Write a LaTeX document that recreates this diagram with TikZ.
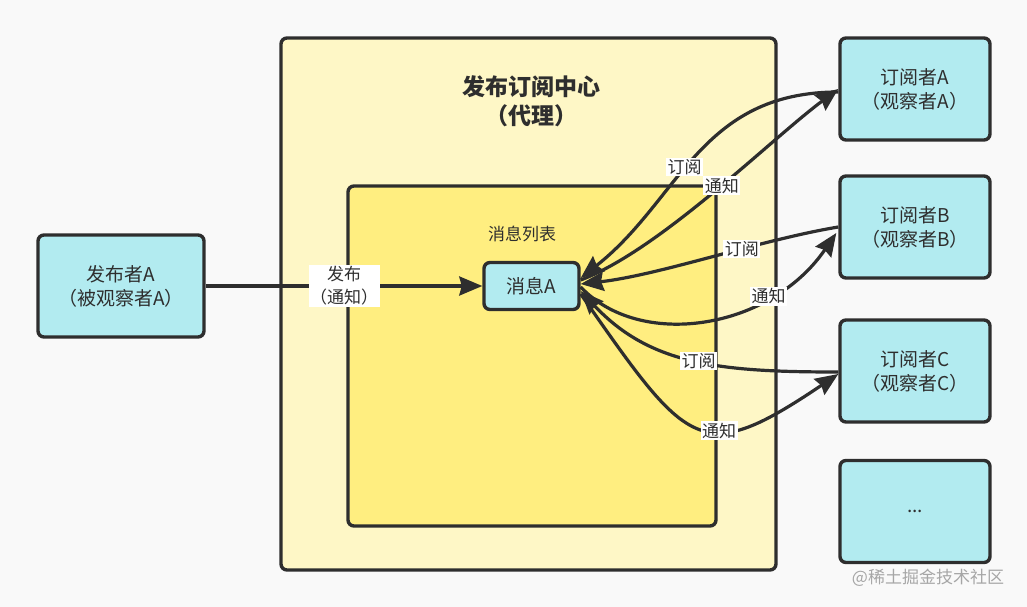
\documentclass[tikz,border=0pt]{standalone}
\usepackage{fontspec}
\setmainfont{Noto Sans CJK SC}
\usetikzlibrary{arrows.meta}
\definecolor{bgc}{HTML}{F9F9F9}
\definecolor{ink}{HTML}{2E2E2E}
\definecolor{cyanf}{HTML}{B2EBF0}
\definecolor{outerf}{HTML}{FEF7C6}
\definecolor{innerf}{HTML}{FFEE80}
\definecolor{wm}{HTML}{A6A6A6}
\begin{document}
\begin{tikzpicture}[x=1pt,y=-1pt,
  frame/.style={draw=ink, line width=3.4pt, rounded corners=6pt, inner sep=0pt},
  box/.style={frame, fill=cyanf, align=center, text=ink, font=\fontsize{19}{24}\selectfont},
  subbox/.style={box, minimum width=150pt, minimum height=102pt},
  conn/.style={draw=ink, line width=3.2pt, -{Stealth[length=23pt,width=19pt,inset=2.5pt]}},
  lbl/.style={fill=white, text=ink, font=\fontsize{17}{23}\selectfont, inner sep=1.5pt, align=center}]
\fill[bgc] (0,0) rectangle (1027,607);
\useasboundingbox (0,0) rectangle (1027,607);

% containers
\node[frame, fill=outerf, minimum width=495pt, minimum height=532pt] (hub) at (528.5,304) {};
\node[frame, fill=innerf, minimum width=368pt, minimum height=340pt] (list) at (532,356) {};
\node[text=ink, align=center, font=\fontsize{23}{29}\selectfont\bfseries] (title) at (531,101) {发布订阅中心\\（代理）};
\node[text=ink, font=\fontsize{17}{20}\selectfont] (listlbl) at (522,234) {消息列表};

% nodes
\node[box, minimum width=95pt, minimum height=47pt] (msg) at (531.5,286) {消息A};
\node[box, minimum width=166pt, minimum height=102pt] (pub) at (121,286) {发布者A\\（被观察者A）};
\node[subbox] (subA) at (915,89) {订阅者A\\（观察者A）};
\node[subbox] (subB) at (915,227) {订阅者B\\（观察者B）};
\node[subbox] (subC) at (915,371) {订阅者C\\（观察者C）};
\node[subbox] (more) at (915,511.5) {...};
\node[text=wm, font=\fontsize{17}{20}\selectfont] (wmark) at (928,578) {@稀土掘金技术社区};

% connectors
\draw[conn] (pub) -- node[lbl]{发布\\（通知）} (msg);

\draw[conn] ([yshift=-3pt]subA.west) .. controls (700,92) and (680,200) .. ([yshift=8pt]msg.east)
  node[lbl, pos=0.55] {订阅};
\draw[conn] ([yshift=6pt]msg.east) .. controls (660,250) and (770,140) .. ([yshift=0pt]subA.west)
  node[lbl, pos=0.53] {通知};

\draw[conn] (subB.west) .. controls (760,240) and (660,275) .. ([yshift=2pt]msg.east)
  node[lbl, pos=0.38] {订阅};
\draw[conn] ([yshift=-1pt]msg.east) .. controls (640,350) and (770,330) .. ([xshift=-2pt,yshift=-6pt]subB.west)
  node[lbl, pos=0.72] {通知};

\draw[conn] ([yshift=-1pt]subC.west) .. controls (720,372) and (650,365) .. ([yshift=-5pt]msg.east)
  node[lbl, pos=0.47] {订阅};
\draw[conn] ([yshift=-8pt]msg.east) .. controls (689,449) and (700,467) .. ([yshift=-3pt]subC.west)
  node[lbl, pos=0.6] {通知};
\end{tikzpicture}
\end{document}
